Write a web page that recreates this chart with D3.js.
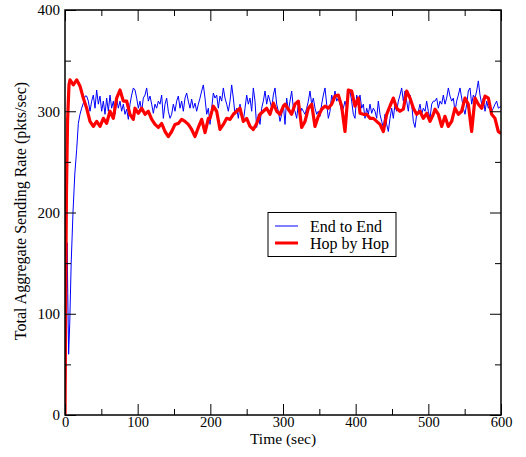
<!DOCTYPE html>
<html><head><meta charset="utf-8">
<script src="https://cdn.jsdelivr.net/npm/d3@7"></script>
<style>
body{margin:0;background:#fff}
svg{display:block}
text{font-family:"Liberation Serif","Times New Roman",serif;fill:#000}
</style>
</head><body>
<svg id="c" width="526" height="457"></svg>
<script>
// ---- data ----
const xTicks = [0, 100, 200, 300, 400, 500, 600];
const xMinor = [50, 150, 250, 350, 450, 550];
const yTicks = [0, 100, 200, 300, 400];
const yMinor = [50, 150, 250, 350];
const seriesNames = ["End to End", "Hop by Hop"];
const xTitle = "Time (sec)";
const yTitle = "Total Aggregate Sending Rate (pkts/sec)";

// End to End: start-up transient (explicit times)
const blueStartT = [0, 1.5, 3, 3.8, 5, 6.5, 8.5, 11, 13.5];
const blueStartV = [0, 60, 170, 120, 60, 90, 150, 200, 238];
// End to End: regular samples, one every blueDt seconds from blueT0
const blueT0 = 16.06, blueDt = 2.2936;
const blueV = [
 262,288,297,303,308,315,315,310,300,310,316,303,321,307,315,300,310,297,313,300,316,303,310,297,313,303,310,300,307,297,302,292,307,316,323,
 321,313,303,310,300,313,316,323,310,315,307,298,307,303,310,307,316,293,307,313,300,293,297,307,300,310,315,303,310,300,313,318,310,303,312,303,308,300,307,313,320,326,313,297,303,
 287,303,318,313,316,303,315,310,323,313,307,300,310,326,313,297,303,293,307,297,290,303,316,307,313,300,323,310,284,297,287,303,310,320,307,316,310,303,316,323,307,300,290,297,307,
 287,313,300,310,320,303,300,293,307,297,303,300,297,303,310,320,307,313,303,297,300,295,307,316,323,307,293,300,316,310,320,310,313,307,300,303,310,303,316,320,310,297,293,316,310,
 316,303,307,293,303,297,307,298,303,300,293,310,297,290,284,297,287,280,293,303,293,307,300,310,316,323,310,320,310,300,316,307,290,284,297,300,307,297,303,300,310,300,293,307,310,
 310,313,303,310,307,316,307,313,323,315,310,313,300,310,316,323,313,303,297,307,320,323,307,316,313,320,330,316,307,313,300,310,303,307,300,303,307,310,303
];
const blueEndT = [600], blueEndV = [305];

// Hop by Hop
const redT = [
 0,1,2,3.5,5.5,
 6.9,11.5,16.1,20.6,25.2,29.8,34.4,39.0,43.6,48.2,52.8,57.3,61.9,66.5,71.1,75.7,80.3,84.9,89.4,94.0,
 96.3,100.9,105.5,110.1,114.7,119.3,123.9,128.4,133.0,137.6,142.2,146.8,151.4,156.0,160.6,165.1,169.7,174.3,178.9,183.5,188.1,192.7,197.3,
 199.5,204.1,208.7,213.3,217.9,222.5,227.1,231.7,236.2,240.8,245.4,250.0,254.6,259.2,263.8,268.4,272.9,277.5,282.1,286.7,291.3,295.9,300.5,
 302.8,307.3,311.9,316.5,321.1,325.7,330.3,334.9,339.5,344.0,348.6,353.2,357.8,362.4,367.0,371.6,376.1,380.7,385.3,389.9,394.5,399.1,403.7,
 406.0,410.5,415.1,419.7,424.3,428.9,433.5,438.1,442.7,447.2,451.8,456.4,461.0,465.6,470.2,474.8,479.4,483.9,488.5,493.1,497.7,502.3,506.9,
 509.2,513.8,518.3,522.9,527.5,532.1,536.7,541.3,545.9,550.4,555.0,559.6,564.2,568.8,573.4,578.0,582.6,587.1,591.7,596.3,600
];
const redV = [
 0,120,220,290,326,
 331,326,331,325,313,303,290,285,290,285,293,288,300,293,313,321,310,310,297,292,
 303,298,303,297,300,292,287,284,288,280,275,280,287,288,292,290,287,282,275,284,292,279,293,
 293,305,300,282,287,293,292,297,300,303,290,293,285,282,288,297,300,303,297,308,300,297,305,
 307,302,297,307,310,284,290,303,307,285,295,302,305,303,307,315,316,305,280,321,320,305,313,
 298,297,297,293,293,290,287,280,297,305,313,303,300,302,320,313,303,297,300,293,298,290,297,
 302,297,285,295,285,290,303,297,300,313,307,280,313,307,303,315,313,297,293,280,278
];

// ---- build series ----
const blue = [];
blueStartT.forEach((t, i) => blue.push([t, blueStartV[i]]));
blueV.forEach((v, i) => blue.push([blueT0 + i * blueDt, v]));
blueEndT.forEach((t, i) => blue.push([t, blueEndV[i]]));
const red = redT.map((t, i) => [t, redV[i]]);

// ---- layout ----
const L = 65, R = 501, T = 10, B = 415;
const x = d3.scaleLinear().domain([0, 600]).range([L, R]);
const y = d3.scaleLinear().domain([0, 400]).range([B, T]);
const svg = d3.select("#c");

svg.append("defs").append("clipPath").attr("id", "clip")
  .append("rect").attr("x", L).attr("y", T).attr("width", R - L).attr("height", B - T);

const line = d3.line().x(d => x(d[0])).y(d => y(d[1]));
const g = svg.append("g").attr("clip-path", "url(#clip)");
g.append("path").datum(blue).attr("d", line).attr("fill", "none")
  .attr("stroke", "#0000ff").attr("stroke-width", 1).attr("stroke-linejoin", "round");
g.append("path").datum(red).attr("d", line).attr("fill", "none")
  .attr("stroke", "#ff0000").attr("stroke-width", 3.2).attr("stroke-linejoin", "round");

// ---- axes (ticks inward on all four sides) ----
const MAJ = 11, MIN = 6;
function styleAxis(sel) {
  sel.select(".domain").remove();
  sel.selectAll(".tick line").attr("stroke", "#000").attr("stroke-width", 1);
  sel.selectAll("text").attr("font-size", 15).attr("fill", "#000")
    .attr("font-family", '"Liberation Serif","Times New Roman",serif');
}
svg.append("g").attr("transform", `translate(0,${B})`)
  .call(d3.axisBottom(x).tickValues(xTicks).tickSize(-MAJ).tickFormat(d3.format("d")))
  .call(styleAxis).call(s => s.selectAll("text").attr("dy", null).attr("y", 11.5).attr("font-size", 14.5));
svg.append("g").attr("transform", `translate(0,${B})`)
  .call(d3.axisBottom(x).tickValues(xMinor).tickSize(-MIN).tickFormat(""))
  .call(styleAxis);
svg.append("g").attr("transform", `translate(0,${T})`)
  .call(d3.axisTop(x).tickValues(xTicks).tickSize(-MAJ).tickFormat(""))
  .call(styleAxis);
svg.append("g").attr("transform", `translate(0,${T})`)
  .call(d3.axisTop(x).tickValues(xMinor).tickSize(-MIN).tickFormat(""))
  .call(styleAxis);
svg.append("g").attr("transform", `translate(${L},0)`)
  .call(d3.axisLeft(y).tickValues(yTicks).tickSize(-MAJ).tickPadding(5).tickFormat(d3.format("d")))
  .call(styleAxis);
svg.append("g").attr("transform", `translate(${L},0)`)
  .call(d3.axisLeft(y).tickValues(yMinor).tickSize(-MIN).tickFormat(""))
  .call(styleAxis);
svg.append("g").attr("transform", `translate(${R},0)`)
  .call(d3.axisRight(y).tickValues(yTicks).tickSize(-MAJ).tickFormat(""))
  .call(styleAxis);
svg.append("g").attr("transform", `translate(${R},0)`)
  .call(d3.axisRight(y).tickValues(yMinor).tickSize(-MIN).tickFormat(""))
  .call(styleAxis);

// frame
svg.append("rect").attr("x", L).attr("y", T).attr("width", R - L).attr("height", B - T)
  .attr("fill", "none").attr("stroke", "#000").attr("stroke-width", 1.5);

// titles
svg.append("text").attr("x", (L + R) / 2).attr("y", 444).attr("text-anchor", "middle")
  .attr("font-size", 15.5).text(xTitle);
svg.append("text").attr("transform", "translate(26,211) rotate(-90)").attr("text-anchor", "middle")
  .attr("font-size", 16).text(yTitle);

// legend
const lg = svg.append("g");
lg.append("rect").attr("x", 268).attr("y", 212.5).attr("width", 128).attr("height", 44)
  .attr("fill", "#fff").attr("stroke", "#000").attr("stroke-width", 1);
const legColors = ["#0000ff", "#ff0000"], legWidths = [1, 3], legY = [226, 243];
seriesNames.forEach((n, i) => {
  lg.append("line").attr("x1", 275).attr("x2", 298).attr("y1", legY[i]).attr("y2", legY[i])
    .attr("stroke", legColors[i]).attr("stroke-width", legWidths[i]);
  lg.append("text").attr("x", 310).attr("y", legY[i] + 5.5).attr("font-size", 16).text(n);
});
</script>
</body></html>
